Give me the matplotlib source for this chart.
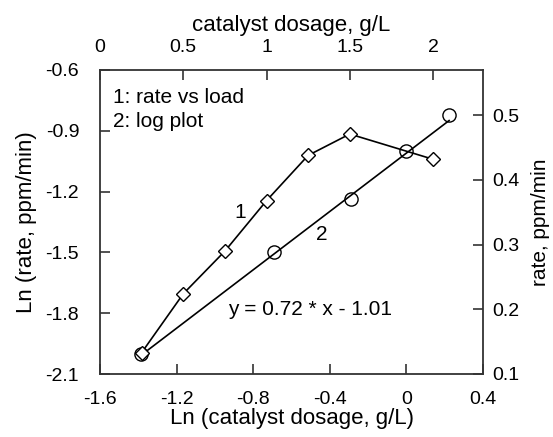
import matplotlib
matplotlib.use("Agg")
import matplotlib.pyplot as plt
import numpy as np

plt.rcParams["font.family"] = ["Liberation Sans", "DejaVu Sans"]

# curva 1: velocidad vs carga de catalizador (ejes superior / derecho)
dosis = [0.25, 0.5, 0.75, 1.0, 1.25, 1.5, 2.0]          # g/L
velocidad = [0.133, 0.224, 0.290, 0.368, 0.438, 0.471, 0.432]  # ppm/min

# curva 2: gráfico logarítmico (ejes inferior / izquierdo)
ln_dosis = [-1.386, -0.693, -0.288, 0.0, 0.223]
ln_velocidad = [-2.00, -1.50, -1.237, -1.00, -0.82]

# ajuste lineal tal como aparece en la figura
PENDIENTE = 0.72
INTERCEPTO = -1.01

TICKS_X_LN = [-1.6, -1.2, -0.8, -0.4, 0, 0.4]
TICKS_Y_LN = [-2.1, -1.8, -1.5, -1.2, -0.9, -0.6]
TICKS_X_DOSIS = [0, 0.5, 1, 1.5, 2]
TICKS_Y_VEL = [0.1, 0.2, 0.3, 0.4, 0.5]

GRIS = "#333333"
POS = [100 / 553, 63 / 437, 383 / 553, 304 / 437]

fig = plt.figure(figsize=(5.53, 4.37), dpi=100)
ax = fig.add_axes(POS)
ax2 = fig.add_axes(POS, frameon=False)

# ---- log plot + recta de ajuste ----
xs = np.array([ln_dosis[0], ln_dosis[-1]])
ax.plot(xs, PENDIENTE * xs + INTERCEPTO, color="black", lw=1.2)
ax.plot(ln_dosis, ln_velocidad, "o", ms=9.5, mfc="none", mec="black", mew=1)
ax.set_xlim(-1.6, 0.4)
ax.set_ylim(-2.1, -0.6)
ax.set_xticks(TICKS_X_LN)
ax.set_xticklabels(["-1.6", "-1.2", "-0.8", "-0.4", "0", "0.4"])
ax.set_yticks(TICKS_Y_LN)
ax.set_yticklabels([f"{v:.1f}" for v in TICKS_Y_LN])
ax.tick_params(direction="in", length=7, width=1.2, color=GRIS, labelsize=14)
ax.tick_params(axis="x", pad=12)
ax.tick_params(axis="y", pad=15)
ax.set_xlabel("Ln (catalyst dosage, g/L)", fontsize=16, labelpad=0)
ax.set_ylabel("Ln (rate, ppm/min)", fontsize=16, labelpad=6)
for s in ax.spines.values():
    s.set_color(GRIS)
    s.set_linewidth(1.3)

# ---- velocidad vs carga ----
ax2.plot(dosis, velocidad, "-D", color="black", lw=1.2, ms=7,
         mfc="white", mec="black", mew=1)
ax2.set_xlim(0, 2.3)
ax2.set_ylim(0.1, 0.57)
ax2.xaxis.set_ticks_position("top")
ax2.xaxis.set_label_position("top")
ax2.yaxis.set_ticks_position("right")
ax2.yaxis.set_label_position("right")
ax2.set_xticks(TICKS_X_DOSIS)
ax2.set_xticklabels(["0", "0.5", "1", "1.5", "2"])
ax2.set_yticks(TICKS_Y_VEL)
ax2.tick_params(direction="in", length=7, width=1.2, color=GRIS, labelsize=14)
ax2.tick_params(axis="x", pad=10)
ax2.tick_params(axis="y", pad=7)
ax2.set_xlabel("catalyst dosage, g/L", fontsize=16, labelpad=6)
ax2.set_ylabel("rate, ppm/min", fontsize=15, labelpad=8)

# ---- textos ----
ax.text(0.034, 0.911, "1: rate vs load", transform=ax.transAxes,
        fontsize=15, va="center")
ax.text(0.034, 0.829, "2: log plot", transform=ax.transAxes,
        fontsize=15, va="center")
ax.text(-0.87, -1.305, "1", fontsize=15, ha="center", va="center")
ax.text(-0.442, -1.414, "2", fontsize=15, ha="center", va="center")
ax.text(-0.505, -1.784, f"y = {PENDIENTE:.2f} * x - {abs(INTERCEPTO):.2f}",
        fontsize=15, ha="center", va="center")

fig.savefig("out.png", dpi=100)
